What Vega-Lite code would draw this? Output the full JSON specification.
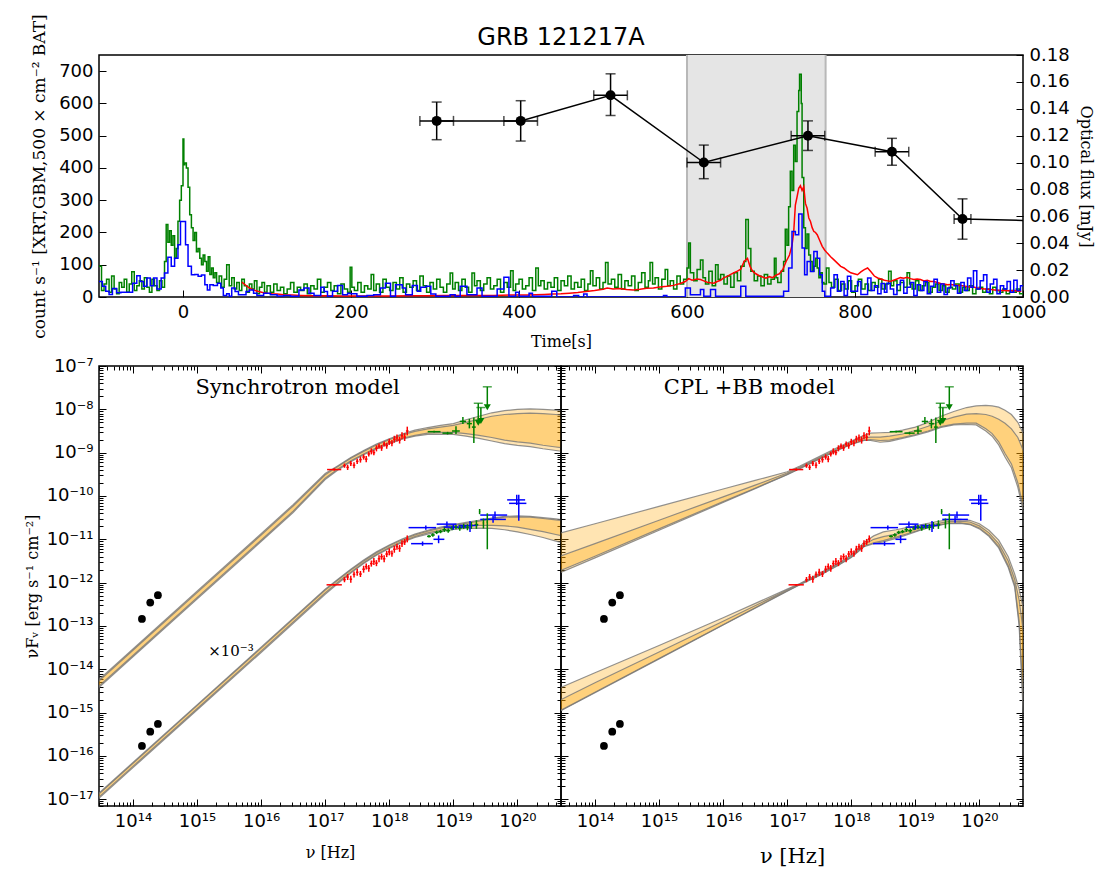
{
"$schema":"https://vega.github.io/schema/vega-lite/v6.json",
"padding":{"left":23,"top":13,"right":12,"bottom":0},
"background":"white",
"config":{
 "view":{"stroke":"black","strokeWidth":1.5},
 "font":"DejaVu Sans",
 "axis":{"grid":false,"domain":false,"tickColor":"black","labelColor":"black","titleColor":"black","labelFont":"DejaVu Sans","labelFontSize":18,"titleFont":"DejaVu Serif","titleFontWeight":"normal","titleFontSize":16,"tickSize":-7,"labelPadding":13,"tickWidth":1,"labelFlush":false,"labelOverlap":false}
},
"datasets":{
 "shade":[{"a":600,"b":765}],
 "edges":[{"a":600},{"a":765}],
 "gbm":[{"t":-100,"v":95},{"t":-97,"v":20},{"t":-94,"v":40},{"t":-91,"v":55},{"t":-88,"v":15},{"t":-85,"v":65},{"t":-82,"v":25},{"t":-79,"v":10},{"t":-76,"v":45},{"t":-73,"v":30},{"t":-70,"v":55},{"t":-67,"v":15},{"t":-64,"v":40},{"t":-61,"v":78},{"t":-58,"v":20},{"t":-55,"v":35},{"t":-52,"v":50},{"t":-49,"v":25},{"t":-46,"v":60},{"t":-43,"v":30},{"t":-40,"v":15},{"t":-37,"v":55},{"t":-34,"v":35},{"t":-31,"v":20},{"t":-28,"v":50},{"t":-25,"v":30},{"t":-22,"v":110},{"t":-20,"v":225},{"t":-18,"v":170},{"t":-16,"v":205},{"t":-14,"v":160},{"t":-12,"v":190},{"t":-10,"v":120},{"t":-8,"v":150},{"t":-6,"v":235},{"t":-4,"v":300},{"t":-2,"v":345},{"t":0,"v":490},{"t":1,"v":410},{"t":2,"v":415},{"t":4,"v":400},{"t":6,"v":340},{"t":8,"v":255},{"t":10,"v":215},{"t":12,"v":175},{"t":14,"v":200},{"t":16,"v":140},{"t":18,"v":150},{"t":20,"v":120},{"t":22,"v":100},{"t":24,"v":130},{"t":26,"v":110},{"t":28,"v":80},{"t":30,"v":125},{"t":32,"v":70},{"t":34,"v":90},{"t":36,"v":60},{"t":38,"v":75},{"t":40,"v":45},{"t":43,"v":65},{"t":46,"v":30},{"t":49,"v":55},{"t":52,"v":100},{"t":55,"v":35},{"t":58,"v":60},{"t":61,"v":25},{"t":64,"v":45},{"t":67,"v":20},{"t":70,"v":55},{"t":73,"v":35},{"t":76,"v":15},{"t":79,"v":40},{"t":82,"v":25},{"t":85,"v":50},{"t":88,"v":10},{"t":91,"v":30},{"t":94,"v":45},{"t":97,"v":15},
 {"t":100,"v":35},{"t":104,"v":15},{"t":108,"v":40},{"t":112,"v":20},{"t":116,"v":30},{"t":120,"v":10},{"t":124,"v":25},{"t":128,"v":45},{"t":132,"v":15},{"t":136,"v":30},{"t":140,"v":20},{"t":144,"v":40},{"t":148,"v":10},{"t":152,"v":35},{"t":156,"v":25},{"t":160,"v":55},{"t":164,"v":15},{"t":168,"v":30},{"t":172,"v":45},{"t":176,"v":20},{"t":180,"v":35},{"t":184,"v":10},{"t":188,"v":40},{"t":192,"v":25},{"t":196,"v":15},{"t":199,"v":92},{"t":201,"v":30},{"t":204,"v":20},{"t":208,"v":45},{"t":212,"v":15},{"t":216,"v":35},{"t":220,"v":25},{"t":224,"v":70},{"t":227,"v":20},{"t":230,"v":40},{"t":234,"v":15},{"t":238,"v":55},{"t":242,"v":30},{"t":246,"v":20},{"t":250,"v":45},{"t":254,"v":25},{"t":258,"v":60},{"t":262,"v":15},{"t":266,"v":40},{"t":270,"v":30},{"t":274,"v":50},{"t":278,"v":20},{"t":282,"v":65},{"t":286,"v":35},{"t":290,"v":15},{"t":294,"v":45},{"t":298,"v":25},{"t":302,"v":55},{"t":306,"v":30},{"t":310,"v":15},{"t":314,"v":40},{"t":318,"v":74},{"t":321,"v":25},{"t":324,"v":45},{"t":328,"v":20},{"t":332,"v":55},{"t":336,"v":30},{"t":340,"v":15},{"t":344,"v":74},{"t":347,"v":35},{"t":350,"v":50},{"t":354,"v":20},{"t":358,"v":40},{"t":362,"v":60},{"t":366,"v":25},{"t":370,"v":35},{"t":374,"v":55},{"t":378,"v":15},{"t":382,"v":45},{"t":386,"v":30},{"t":390,"v":81},{"t":393,"v":20},{"t":396,"v":40},{"t":400,"v":55},{"t":404,"v":25},{"t":408,"v":35},{"t":412,"v":60},{"t":416,"v":20},{"t":420,"v":90},{"t":423,"v":35},{"t":426,"v":50},{"t":430,"v":25},{"t":434,"v":45},{"t":438,"v":30},{"t":442,"v":60},{"t":446,"v":20},{"t":450,"v":50},{"t":454,"v":35},{"t":458,"v":65},{"t":462,"v":25},{"t":466,"v":45},{"t":470,"v":30},{"t":474,"v":55},{"t":478,"v":20},{"t":482,"v":40},{"t":485,"v":81},{"t":488,"v":35},{"t":492,"v":60},{"t":496,"v":25},{"t":500,"v":45},{"t":503,"v":107},{"t":506,"v":40},{"t":510,"v":55},{"t":514,"v":30},{"t":518,"v":70},{"t":522,"v":25},{"t":526,"v":50},{"t":530,"v":35},{"t":534,"v":65},{"t":538,"v":20},{"t":542,"v":45},{"t":546,"v":75},{"t":550,"v":30},{"t":554,"v":50},{"t":556,"v":107},{"t":559,"v":40},{"t":562,"v":60},{"t":566,"v":25},{"t":570,"v":55},{"t":574,"v":85},{"t":577,"v":35},{"t":580,"v":50},{"t":584,"v":25},{"t":588,"v":65},{"t":592,"v":40},{"t":596,"v":55},{"t":600,"v":90},{"t":602,"v":167},{"t":604,"v":75},{"t":608,"v":50},{"t":612,"v":85},{"t":616,"v":115},{"t":619,"v":60},{"t":622,"v":40},{"t":626,"v":80},{"t":630,"v":35},{"t":634,"v":100},{"t":637,"v":55},{"t":640,"v":70},{"t":644,"v":40},{"t":648,"v":65},{"t":652,"v":30},{"t":656,"v":75},{"t":660,"v":50},{"t":664,"v":95},{"t":668,"v":110},{"t":670,"v":240},{"t":673,"v":150},{"t":676,"v":80},{"t":680,"v":50},{"t":684,"v":65},{"t":688,"v":35},{"t":692,"v":70},{"t":696,"v":40},{"t":700,"v":55},{"t":704,"v":120},{"t":706,"v":60},{"t":708,"v":45},{"t":712,"v":80},{"t":715,"v":110},{"t":717,"v":210},{"t":719,"v":160},{"t":721,"v":280},{"t":723,"v":390},{"t":725,"v":330},{"t":727,"v":470},{"t":729,"v":420},{"t":731,"v":575},{"t":733,"v":640},{"t":734,"v":690},{"t":736,"v":600},{"t":737,"v":370},{"t":739,"v":215},{"t":741,"v":150},{"t":743,"v":195},{"t":745,"v":130},{"t":747,"v":110},{"t":749,"v":80},{"t":751,"v":95},{"t":753,"v":120},{"t":755,"v":90},{"t":757,"v":60},{"t":759,"v":75},{"t":761,"v":45},{"t":763,"v":40},{"t":766,"v":90},{"t":769,"v":45},{"t":772,"v":30},{"t":776,"v":55},{"t":780,"v":20},{"t":784,"v":40},{"t":788,"v":25},{"t":792,"v":50},{"t":796,"v":15},{"t":800,"v":35},{"t":804,"v":55},{"t":808,"v":25},{"t":812,"v":40},{"t":816,"v":20},{"t":820,"v":45},{"t":824,"v":30},{"t":828,"v":55},{"t":832,"v":25},{"t":836,"v":40},{"t":840,"v":80},{"t":843,"v":35},{"t":846,"v":50},{"t":850,"v":20},{"t":854,"v":45},{"t":858,"v":30},{"t":862,"v":75},{"t":865,"v":40},{"t":868,"v":25},{"t":872,"v":50},{"t":876,"v":20},{"t":880,"v":35},{"t":884,"v":45},{"t":888,"v":15},{"t":892,"v":30},{"t":896,"v":40},{"t":900,"v":20},{"t":904,"v":35},{"t":908,"v":15},{"t":912,"v":30},{"t":916,"v":25},{"t":920,"v":40},{"t":924,"v":15},{"t":928,"v":30},{"t":932,"v":20},{"t":936,"v":35},{"t":940,"v":10},{"t":944,"v":25},{"t":948,"v":30},{"t":952,"v":15},{"t":956,"v":25},{"t":960,"v":10},{"t":964,"v":30},{"t":968,"v":20},{"t":972,"v":15},{"t":976,"v":25},{"t":980,"v":10},{"t":984,"v":20},{"t":988,"v":15},{"t":992,"v":25},{"t":996,"v":10},{"t":1000,"v":10}],
 "bat":[{"t":-100,"v":48},{"t":-96,"v":33},{"t":-92,"v":18},{"t":-88,"v":8},{"t":-84,"v":26},{"t":-79,"v":13},{"t":-74,"v":15},{"t":-60,"v":43},{"t":-55,"v":66},{"t":-51,"v":48},{"t":-47,"v":33},{"t":-43,"v":59},{"t":-39,"v":35},{"t":-35,"v":59},{"t":-31,"v":25},{"t":-26,"v":59},{"t":-22,"v":74},{"t":-18,"v":123},{"t":-14,"v":95},{"t":-10,"v":120},{"t":-6,"v":162},{"t":-3,"v":234},{"t":3,"v":162},{"t":6,"v":95},{"t":10,"v":69},{"t":14,"v":70},{"t":18,"v":64},{"t":22,"v":68},{"t":26,"v":38},{"t":29,"v":22},{"t":32,"v":38},{"t":36,"v":36},{"t":41,"v":43},{"t":45,"v":28},{"t":48,"v":5},{"t":52,"v":10},{"t":55,"v":2},{"t":58,"v":28},{"t":62,"v":17},{"t":66,"v":7},{"t":71,"v":7},{"t":75,"v":17},{"t":79,"v":22},{"t":84,"v":12},{"t":88,"v":5},{"t":96,"v":12},{"t":104,"v":7},{"t":112,"v":3},{"t":120,"v":5},{"t":128,"v":2},{"t":138,"v":22},{"t":144,"v":28},{"t":150,"v":12},{"t":156,"v":5},{"t":164,"v":30},{"t":168,"v":17},{"t":172,"v":2},{"t":178,"v":18},{"t":184,"v":36},{"t":190,"v":7},{"t":196,"v":12},{"t":199,"v":10},{"t":207,"v":2},{"t":219,"v":5},{"t":227,"v":7},{"t":235,"v":28},{"t":241,"v":43},{"t":247,"v":2},{"t":253,"v":38},{"t":261,"v":28},{"t":265,"v":7},{"t":273,"v":36},{"t":279,"v":18},{"t":283,"v":30},{"t":289,"v":33},{"t":295,"v":9},{"t":301,"v":2},{"t":318,"v":7},{"t":324,"v":2},{"t":330,"v":33},{"t":338,"v":7},{"t":350,"v":28},{"t":356,"v":2},{"t":374,"v":25},{"t":382,"v":61},{"t":388,"v":2},{"t":396,"v":15},{"t":400,"v":2},{"t":412,"v":12},{"t":416,"v":2},{"t":439,"v":18},{"t":445,"v":0},{"t":465,"v":5},{"t":471,"v":0},{"t":477,"v":9},{"t":481,"v":0},{"t":572,"v":5},{"t":576,"v":0},{"t":598,"v":28},{"t":604,"v":7},{"t":616,"v":23},{"t":620,"v":2},{"t":628,"v":23},{"t":634,"v":2},{"t":664,"v":33},{"t":670,"v":2},{"t":715,"v":18},{"t":721,"v":90},{"t":725,"v":203},{"t":729,"v":193},{"t":733,"v":257},{"t":737,"v":152},{"t":740,"v":69},{"t":743,"v":110},{"t":747,"v":79},{"t":751,"v":141},{"t":755,"v":120},{"t":758,"v":69},{"t":761,"v":18},{"t":764,"v":2},{"t":771,"v":28},{"t":775,"v":69},{"t":779,"v":18},{"t":783,"v":48},{"t":787,"v":5},{"t":791,"v":64},{"t":795,"v":18},{"t":803,"v":48},{"t":807,"v":8},{"t":815,"v":59},{"t":819,"v":20},{"t":823,"v":35},{"t":827,"v":10},{"t":831,"v":42},{"t":835,"v":15},{"t":838,"v":43},{"t":842,"v":25},{"t":846,"v":8},{"t":850,"v":38},{"t":854,"v":52},{"t":858,"v":12},{"t":862,"v":30},{"t":866,"v":45},{"t":870,"v":5},{"t":874,"v":38},{"t":878,"v":20},{"t":882,"v":48},{"t":886,"v":10},{"t":890,"v":33},{"t":894,"v":55},{"t":898,"v":15},{"t":902,"v":40},{"t":906,"v":8},{"t":910,"v":28},{"t":914,"v":50},{"t":918,"v":35},{"t":922,"v":12},{"t":926,"v":45},{"t":930,"v":20},{"t":934,"v":59},{"t":938,"v":30},{"t":941,"v":81},{"t":945,"v":25},{"t":949,"v":50},{"t":953,"v":69},{"t":957,"v":15},{"t":961,"v":40},{"t":965,"v":55},{"t":969,"v":10},{"t":973,"v":35},{"t":977,"v":25},{"t":981,"v":48},{"t":985,"v":15},{"t":989,"v":52},{"t":993,"v":20},{"t":997,"v":35},{"t":1000,"v":35}],
 "xrt":[{"t":70,"v":46},{"t":74,"v":38},{"t":78,"v":30},{"t":82,"v":24},{"t":86,"v":20},{"t":90,"v":17},{"t":95,"v":14},{"t":100,"v":12},{"t":106,"v":10},{"t":112,"v":9},{"t":120,"v":7},{"t":130,"v":6},{"t":140,"v":5},{"t":155,"v":4},{"t":170,"v":4},{"t":190,"v":3},{"t":210,"v":3},{"t":230,"v":3},{"t":250,"v":3},{"t":270,"v":4},{"t":290,"v":4},{"t":310,"v":5},{"t":330,"v":5},{"t":350,"v":5},{"t":370,"v":5},{"t":390,"v":6},{"t":410,"v":6},{"t":420,"v":7},{"t":430,"v":8},{"t":440,"v":9},{"t":450,"v":10},{"t":460,"v":12},{"t":470,"v":14},{"t":480,"v":17},{"t":490,"v":20},{"t":500,"v":24},{"t":505,"v":28},{"t":512,"v":25},{"t":520,"v":26},{"t":528,"v":23},{"t":536,"v":22},{"t":544,"v":24},{"t":552,"v":27},{"t":560,"v":28},{"t":568,"v":31},{"t":576,"v":33},{"t":584,"v":36},{"t":592,"v":42},{"t":598,"v":48},{"t":602,"v":57},{"t":606,"v":52},{"t":612,"v":56},{"t":616,"v":54},{"t":620,"v":50},{"t":624,"v":46},{"t":628,"v":44},{"t":632,"v":43},{"t":636,"v":48},{"t":640,"v":52},{"t":644,"v":60},{"t":648,"v":64},{"t":652,"v":70},{"t":656,"v":75},{"t":660,"v":80},{"t":664,"v":86},{"t":668,"v":110},{"t":672,"v":120},{"t":675,"v":95},{"t":678,"v":80},{"t":682,"v":72},{"t":686,"v":66},{"t":690,"v":62},{"t":694,"v":58},{"t":698,"v":63},{"t":702,"v":60},{"t":706,"v":68},{"t":710,"v":72},{"t":714,"v":85},{"t":718,"v":110},{"t":722,"v":130},{"t":725,"v":160},{"t":727,"v":200},{"t":729,"v":285},{"t":731,"v":310},{"t":733,"v":337},{"t":735,"v":345},{"t":737,"v":330},{"t":739,"v":342},{"t":741,"v":290},{"t":743,"v":275},{"t":745,"v":245},{"t":747,"v":234},{"t":749,"v":215},{"t":751,"v":203},{"t":753,"v":200},{"t":755,"v":193},{"t":758,"v":175},{"t":761,"v":157},{"t":764,"v":145},{"t":767,"v":136},{"t":771,"v":125},{"t":775,"v":115},{"t":779,"v":105},{"t":783,"v":95},{"t":787,"v":90},{"t":791,"v":82},{"t":795,"v":75},{"t":799,"v":72},{"t":803,"v":69},{"t":807,"v":78},{"t":811,"v":85},{"t":815,"v":90},{"t":819,"v":78},{"t":823,"v":65},{"t":827,"v":59},{"t":831,"v":56},{"t":835,"v":52},{"t":839,"v":50},{"t":842,"v":48},{"t":846,"v":52},{"t":850,"v":56},{"t":854,"v":60},{"t":858,"v":58},{"t":862,"v":61},{"t":866,"v":57},{"t":870,"v":54},{"t":874,"v":56},{"t":878,"v":54},{"t":882,"v":50},{"t":886,"v":52},{"t":890,"v":48},{"t":894,"v":48},{"t":898,"v":45},{"t":902,"v":42},{"t":906,"v":40},{"t":910,"v":38},{"t":914,"v":39},{"t":918,"v":37},{"t":922,"v":36},{"t":926,"v":36},{"t":930,"v":34},{"t":934,"v":32},{"t":938,"v":31},{"t":942,"v":30},{"t":946,"v":28},{"t":950,"v":26},{"t":954,"v":25},{"t":958,"v":24},{"t":962,"v":23},{"t":966,"v":22},{"t":970,"v":21},{"t":974,"v":20},{"t":978,"v":20},{"t":982,"v":19},{"t":986,"v":19},{"t":990,"v":20},{"t":994,"v":18},{"t":998,"v":18}],
 "opt":[{"t":302,"f":0.131,"t1":282,"t2":322,"f1":0.117,"f2":0.145},{"t":402,"f":0.131,"t1":382,"t2":422,"f1":0.116,"f2":0.146},{"t":509,"f":0.150,"t1":489,"t2":529,"f1":0.135,"f2":0.166},{"t":620,"f":0.100,"t1":600,"t2":640,"f1":0.088,"f2":0.113},{"t":744,"f":0.120,"t1":724,"t2":764,"f1":0.109,"f2":0.131},{"t":844,"f":0.108,"t1":824,"t2":864,"f1":0.098,"f2":0.118},{"t":928,"f":0.058,"t1":918,"t2":938,"f1":0.043,"f2":0.073},{"t":1060,"f":0.056,"t1":1045,"t2":1075,"f1":0.045,"f2":0.067}],
 "syn":[
  {"g":"u","nu":2.51e13,"lo":3.09e-15,"hi":4.68e-15,"ilo":3.31e-15,"ihi":4.37e-15},{"g":"u","nu":1e14,"lo":1.95e-14,"hi":2.95e-14,"ilo":2.09e-14,"ihi":2.75e-14},{"g":"u","nu":1e15,"lo":4.17e-13,"hi":6.31e-13,"ilo":4.47e-13,"ihi":5.89e-13},{"g":"u","nu":1e16,"lo":8.91e-12,"hi":1.35e-11,"ilo":9.55e-12,"ihi":1.26e-11},{"g":"u","nu":3.16e16,"lo":4.17e-11,"hi":6.31e-11,"ilo":4.47e-11,"ihi":5.89e-11},{"g":"u","nu":1e17,"lo":2.40e-10,"hi":3.31e-10,"ilo":2.57e-10,"ihi":3.09e-10},{"g":"u","nu":1.58e17,"lo":3.98e-10,"hi":5.01e-10,"ilo":4.17e-10,"ihi":4.79e-10},{"g":"u","nu":2.51e17,"lo":6.17e-10,"hi":7.76e-10,"ilo":6.46e-10,"ihi":7.41e-10},{"g":"u","nu":3.98e17,"lo":8.91e-10,"hi":1.12e-9,"ilo":9.33e-10,"ihi":1.07e-9},{"g":"u","nu":6.31e17,"lo":1.23e-9,"hi":1.58e-9,"ilo":1.29e-9,"ihi":1.51e-9},{"g":"u","nu":1e18,"lo":1.62e-9,"hi":2.09e-9,"ilo":1.70e-9,"ihi":2.00e-9},{"g":"u","nu":1.58e18,"lo":2.04e-9,"hi":2.69e-9,"ilo":2.14e-9,"ihi":2.57e-9},{"g":"u","nu":2.51e18,"lo":2.40e-9,"hi":3.31e-9,"ilo":2.51e-9,"ihi":3.09e-9},{"g":"u","nu":3.98e18,"lo":2.63e-9,"hi":3.80e-9,"ilo":2.82e-9,"ihi":3.55e-9},{"g":"u","nu":6.31e18,"lo":2.69e-9,"hi":4.27e-9,"ilo":2.95e-9,"ihi":3.89e-9},{"g":"u","nu":1e19,"lo":2.63e-9,"hi":4.68e-9,"ilo":2.95e-9,"ihi":4.27e-9},{"g":"u","nu":1.58e19,"lo":2.40e-9,"hi":5.75e-9,"ilo":2.75e-9,"ihi":5.01e-9},{"g":"u","nu":2.51e19,"lo":2.14e-9,"hi":6.92e-9,"ilo":2.51e-9,"ihi":5.89e-9},{"g":"u","nu":3.98e19,"lo":1.86e-9,"hi":8.32e-9,"ilo":2.24e-9,"ihi":6.92e-9},{"g":"u","nu":6.31e19,"lo":1.62e-9,"hi":9.33e-9,"ilo":1.95e-9,"ihi":7.59e-9},{"g":"u","nu":1e20,"lo":1.48e-9,"hi":1.00e-8,"ilo":1.78e-9,"ihi":7.94e-9},{"g":"u","nu":1.58e20,"lo":1.38e-9,"hi":1.02e-8,"ilo":1.66e-9,"ihi":8.13e-9},{"g":"u","nu":2.51e20,"lo":1.23e-9,"hi":1.00e-8,"ilo":1.48e-9,"ihi":7.94e-9},{"g":"u","nu":3.98e20,"lo":1.12e-9,"hi":9.55e-9,"ilo":1.35e-9,"ihi":7.59e-9},{"g":"u","nu":6.31e20,"lo":1.02e-9,"hi":8.91e-9,"ilo":1.23e-9,"ihi":7.08e-9},
  {"g":"d","nu":2.51e13,"lo":8.51e-18,"hi":1.12e-17,"ilo":9.12e-18,"ihi":1.07e-17},{"g":"d","nu":1e14,"lo":5.37e-17,"hi":7.08e-17,"ilo":5.75e-17,"ihi":6.76e-17},{"g":"d","nu":1e15,"lo":1.15e-15,"hi":1.51e-15,"ilo":1.23e-15,"ihi":1.45e-15},{"g":"d","nu":1e16,"lo":2.45e-14,"hi":3.24e-14,"ilo":2.63e-14,"ihi":3.09e-14},{"g":"d","nu":1e17,"lo":5.37e-13,"hi":7.08e-13,"ilo":5.75e-13,"ihi":6.76e-13},{"g":"d","nu":1.58e17,"lo":9.55e-13,"hi":1.20e-12,"ilo":1.02e-12,"ihi":1.15e-12},{"g":"d","nu":2.51e17,"lo":1.66e-12,"hi":2.04e-12,"ilo":1.74e-12,"ihi":1.95e-12},{"g":"d","nu":3.98e17,"lo":2.75e-12,"hi":3.31e-12,"ilo":2.88e-12,"ihi":3.16e-12},{"g":"d","nu":6.31e17,"lo":4.27e-12,"hi":5.13e-12,"ilo":4.47e-12,"ihi":4.90e-12},{"g":"d","nu":1e18,"lo":6.17e-12,"hi":7.41e-12,"ilo":6.46e-12,"ihi":7.08e-12},{"g":"d","nu":1.58e18,"lo":8.51e-12,"hi":1.02e-11,"ilo":8.91e-12,"ihi":9.77e-12},{"g":"d","nu":2.51e18,"lo":1.10e-11,"hi":1.32e-11,"ilo":1.15e-11,"ihi":1.26e-11},{"g":"d","nu":3.98e18,"lo":1.32e-11,"hi":1.62e-11,"ilo":1.41e-11,"ihi":1.55e-11},{"g":"d","nu":6.31e18,"lo":1.51e-11,"hi":1.91e-11,"ilo":1.62e-11,"ihi":1.82e-11},{"g":"d","nu":1e19,"lo":1.70e-11,"hi":2.19e-11,"ilo":1.86e-11,"ihi":2.09e-11},{"g":"d","nu":1.58e19,"lo":1.78e-11,"hi":2.45e-11,"ilo":2.00e-11,"ihi":2.34e-11},{"g":"d","nu":2.51e19,"lo":1.82e-11,"hi":2.75e-11,"ilo":2.09e-11,"ihi":2.63e-11},{"g":"d","nu":3.98e19,"lo":1.78e-11,"hi":3.09e-11,"ilo":2.09e-11,"ihi":2.95e-11},{"g":"d","nu":6.31e19,"lo":1.66e-11,"hi":3.39e-11,"ilo":2.04e-11,"ihi":3.24e-11},{"g":"d","nu":1e20,"lo":1.48e-11,"hi":3.47e-11,"ilo":1.91e-11,"ihi":3.31e-11},{"g":"d","nu":1.58e20,"lo":1.29e-11,"hi":3.39e-11,"ilo":1.70e-11,"ihi":3.24e-11},{"g":"d","nu":2.51e20,"lo":1.10e-11,"hi":3.16e-11,"ilo":1.51e-11,"ihi":3.02e-11},{"g":"d","nu":3.98e20,"lo":9.12e-12,"hi":2.95e-11,"ilo":1.29e-11,"ihi":2.82e-11},{"g":"d","nu":6.31e20,"lo":7.59e-12,"hi":2.69e-11,"ilo":1.10e-11,"ihi":2.57e-11}],
 "cpl":[
  {"g":"u","nu":2.51e13,"lo":1.55e-12,"hi":1.32e-11,"ilo":1.74e-12,"ihi":3.80e-12},{"g":"u","nu":1e14,"lo":3.72e-12,"hi":2.29e-11,"ilo":4.07e-12,"ihi":7.94e-12},{"g":"u","nu":1e15,"lo":1.62e-11,"hi":5.75e-11,"ilo":1.74e-11,"ihi":2.75e-11},{"g":"u","nu":1e16,"lo":7.08e-11,"hi":1.45e-10,"ilo":7.41e-11,"ihi":9.55e-11},{"g":"u","nu":3.16e16,"lo":1.48e-10,"hi":2.29e-10,"ilo":1.51e-10,"ihi":1.78e-10},{"g":"u","nu":1e17,"lo":3.09e-10,"hi":3.63e-10,"ilo":3.16e-10,"ihi":3.39e-10},{"g":"u","nu":1.58e17,"lo":4.27e-10,"hi":4.90e-10,"ilo":4.37e-10,"ihi":4.68e-10},{"g":"u","nu":3.16e17,"lo":7.08e-10,"hi":8.13e-10,"ilo":7.24e-10,"ihi":7.76e-10},{"g":"u","nu":6.31e17,"lo":1.15e-9,"hi":1.35e-9,"ilo":1.17e-9,"ihi":1.26e-9},{"g":"u","nu":1e18,"lo":1.55e-9,"hi":1.86e-9,"ilo":1.58e-9,"ihi":1.74e-9},{"g":"u","nu":1.58e18,"lo":1.91e-9,"hi":2.51e-9,"ilo":1.95e-9,"ihi":2.19e-9},{"g":"u","nu":2.00e18,"lo":1.91e-9,"hi":2.82e-9,"ilo":2.00e-9,"ihi":2.29e-9},{"g":"u","nu":2.82e18,"lo":1.74e-9,"hi":2.88e-9,"ilo":1.91e-9,"ihi":2.29e-9},{"g":"u","nu":3.98e18,"lo":1.82e-9,"hi":2.95e-9,"ilo":1.95e-9,"ihi":2.40e-9},{"g":"u","nu":6.31e18,"lo":2.14e-9,"hi":3.31e-9,"ilo":2.24e-9,"ihi":2.69e-9},{"g":"u","nu":1e19,"lo":2.51e-9,"hi":3.89e-9,"ilo":2.63e-9,"ihi":3.24e-9},{"g":"u","nu":1.58e19,"lo":3.02e-9,"hi":5.01e-9,"ilo":3.16e-9,"ihi":4.07e-9},{"g":"u","nu":2.51e19,"lo":3.80e-9,"hi":6.92e-9,"ilo":3.98e-9,"ihi":5.37e-9},{"g":"u","nu":3.98e19,"lo":4.37e-9,"hi":8.91e-9,"ilo":4.57e-9,"ihi":6.61e-9},{"g":"u","nu":6.31e19,"lo":4.47e-9,"hi":1.10e-8,"ilo":4.79e-9,"ihi":7.76e-9},{"g":"u","nu":8.91e19,"lo":4.37e-9,"hi":1.20e-8,"ilo":4.79e-9,"ihi":7.94e-9},{"g":"u","nu":1.26e20,"lo":3.16e-9,"hi":1.23e-8,"ilo":3.55e-9,"ihi":7.59e-9},{"g":"u","nu":1.58e20,"lo":2.40e-9,"hi":1.20e-8,"ilo":2.75e-9,"ihi":6.92e-9},{"g":"u","nu":2.00e20,"lo":1.51e-9,"hi":1.12e-8,"ilo":1.78e-9,"ihi":5.89e-9},{"g":"u","nu":2.51e20,"lo":7.94e-10,"hi":9.55e-9,"ilo":9.55e-10,"ihi":4.79e-9},{"g":"u","nu":3.16e20,"lo":4.47e-10,"hi":7.59e-9,"ilo":5.50e-10,"ihi":3.55e-9},{"g":"u","nu":3.98e20,"lo":1.58e-10,"hi":5.01e-9,"ilo":2.00e-10,"ihi":2.24e-9},{"g":"u","nu":5.01e20,"lo":3.55e-11,"hi":2.51e-9,"ilo":4.47e-11,"ihi":1.00e-9},
  {"g":"d","nu":2.51e13,"lo":9.77e-16,"hi":3.47e-15,"ilo":1.00e-15,"ihi":1.78e-15},{"g":"d","nu":1e14,"lo":2.88e-15,"hi":8.32e-15,"ilo":2.95e-15,"ihi":4.90e-15},{"g":"d","nu":1e15,"lo":1.74e-14,"hi":3.55e-14,"ilo":1.78e-14,"ihi":2.51e-14},{"g":"d","nu":1e16,"lo":1.05e-13,"hi":1.55e-13,"ilo":1.07e-13,"ihi":1.29e-13},{"g":"d","nu":1e17,"lo":6.31e-13,"hi":7.08e-13,"ilo":6.46e-13,"ihi":6.76e-13},{"g":"d","nu":1.58e17,"lo":8.91e-13,"hi":9.55e-13,"ilo":9.12e-13,"ihi":9.33e-13},{"g":"d","nu":3.16e17,"lo":1.45e-12,"hi":1.62e-12,"ilo":1.48e-12,"ihi":1.55e-12},{"g":"d","nu":6.31e17,"lo":2.51e-12,"hi":2.82e-12,"ilo":2.57e-12,"ihi":2.69e-12},{"g":"d","nu":1e18,"lo":3.80e-12,"hi":4.37e-12,"ilo":3.89e-12,"ihi":4.07e-12},{"g":"d","nu":1.58e18,"lo":6.76e-12,"hi":8.51e-12,"ilo":6.92e-12,"ihi":7.59e-12},{"g":"d","nu":2.24e18,"lo":7.94e-12,"hi":1.20e-11,"ilo":8.32e-12,"ihi":1.00e-11},{"g":"d","nu":3.16e18,"lo":8.71e-12,"hi":1.48e-11,"ilo":9.33e-12,"ihi":1.15e-11},{"g":"d","nu":5.01e18,"lo":1.05e-11,"hi":1.66e-11,"ilo":1.12e-11,"ihi":1.32e-11},{"g":"d","nu":7.94e18,"lo":1.32e-11,"hi":1.91e-11,"ilo":1.38e-11,"ihi":1.58e-11},{"g":"d","nu":1.26e19,"lo":1.66e-11,"hi":2.19e-11,"ilo":1.70e-11,"ihi":1.91e-11},{"g":"d","nu":2.00e19,"lo":2.00e-11,"hi":2.51e-11,"ilo":2.04e-11,"ihi":2.24e-11},{"g":"d","nu":3.16e19,"lo":2.29e-11,"hi":2.82e-11,"ilo":2.34e-11,"ihi":2.57e-11},{"g":"d","nu":5.01e19,"lo":2.34e-11,"hi":2.88e-11,"ilo":2.40e-11,"ihi":2.63e-11},{"g":"d","nu":7.08e19,"lo":2.19e-11,"hi":2.75e-11,"ilo":2.24e-11,"ihi":2.51e-11},{"g":"d","nu":1e20,"lo":1.74e-11,"hi":2.29e-11,"ilo":1.82e-11,"ihi":2.04e-11},{"g":"d","nu":1.41e20,"lo":1.17e-11,"hi":1.62e-11,"ilo":1.23e-11,"ihi":1.41e-11},{"g":"d","nu":2.00e20,"lo":6.31e-12,"hi":9.55e-12,"ilo":6.76e-12,"ihi":7.94e-12},{"g":"d","nu":2.82e20,"lo":2.24e-12,"hi":3.98e-12,"ilo":2.45e-12,"ihi":3.16e-12},{"g":"d","nu":3.55e20,"lo":7.94e-13,"hi":1.58e-12,"ilo":8.91e-13,"ihi":1.20e-12},{"g":"d","nu":4.17e20,"lo":1.00e-13,"hi":7.08e-13,"ilo":1.26e-13,"ihi":3.98e-13},{"g":"d","nu":5.01e20,"lo":3.16e-16,"hi":2.00e-13,"ilo":6.31e-16,"ihi":5.01e-14}],
 "pts":[
  {"i":"XRT","nu":1.38e17,"f":4.07e-10,"x1":1.07e17,"x2":1.78e17,"y1":3.80e-10,"y2":4.37e-10},{"i":"XRT","nu":2.00e17,"f":5.01e-10,"x1":1.91e17,"x2":2.09e17,"y1":4.47e-10,"y2":5.62e-10},{"i":"XRT","nu":2.24e17,"f":4.57e-10,"x1":2.14e17,"x2":2.34e17,"y1":3.98e-10,"y2":5.25e-10},{"i":"XRT","nu":2.51e17,"f":5.62e-10,"x1":2.40e17,"x2":2.63e17,"y1":4.90e-10,"y2":6.46e-10},{"i":"XRT","nu":2.82e17,"f":5.13e-10,"x1":2.69e17,"x2":2.95e17,"y1":4.37e-10,"y2":6.03e-10},{"i":"XRT","nu":3.16e17,"f":6.31e-10,"x1":3.02e17,"x2":3.31e17,"y1":5.50e-10,"y2":7.24e-10},{"i":"XRT","nu":3.55e17,"f":6.92e-10,"x1":3.39e17,"x2":3.72e17,"y1":5.89e-10,"y2":8.13e-10},{"i":"XRT","nu":3.98e17,"f":7.94e-10,"x1":3.80e17,"x2":4.17e17,"y1":6.92e-10,"y2":9.12e-10},{"i":"XRT","nu":4.37e17,"f":7.08e-10,"x1":4.17e17,"x2":4.57e17,"y1":6.03e-10,"y2":8.32e-10},{"i":"XRT","nu":4.79e17,"f":9.33e-10,"x1":4.57e17,"x2":5.01e17,"y1":8.13e-10,"y2":1.07e-9},{"i":"XRT","nu":5.25e17,"f":1.07e-9,"x1":5.01e17,"x2":5.50e17,"y1":9.12e-10,"y2":1.26e-9},{"i":"XRT","nu":5.75e17,"f":1.00e-9,"x1":5.50e17,"x2":6.03e17,"y1":8.71e-10,"y2":1.15e-9},{"i":"XRT","nu":6.31e17,"f":1.26e-9,"x1":6.03e17,"x2":6.61e17,"y1":1.07e-9,"y2":1.48e-9},{"i":"XRT","nu":6.92e17,"f":1.41e-9,"x1":6.61e17,"x2":7.24e17,"y1":1.23e-9,"y2":1.62e-9},{"i":"XRT","nu":7.59e17,"f":1.29e-9,"x1":7.24e17,"x2":7.94e17,"y1":1.10e-9,"y2":1.51e-9},{"i":"XRT","nu":8.32e17,"f":1.58e-9,"x1":7.94e17,"x2":8.71e17,"y1":1.38e-9,"y2":1.82e-9},{"i":"XRT","nu":9.12e17,"f":1.45e-9,"x1":8.71e17,"x2":9.55e17,"y1":1.23e-9,"y2":1.70e-9},{"i":"XRT","nu":1.00e18,"f":1.78e-9,"x1":9.55e17,"x2":1.05e18,"y1":1.51e-9,"y2":2.09e-9},{"i":"XRT","nu":1.10e18,"f":1.66e-9,"x1":1.05e18,"x2":1.15e18,"y1":1.41e-9,"y2":1.95e-9},{"i":"XRT","nu":1.20e18,"f":2.04e-9,"x1":1.15e18,"x2":1.26e18,"y1":1.70e-9,"y2":2.45e-9},{"i":"XRT","nu":1.32e18,"f":2.19e-9,"x1":1.26e18,"x2":1.38e18,"y1":1.82e-9,"y2":2.63e-9},{"i":"XRT","nu":1.45e18,"f":1.95e-9,"x1":1.38e18,"x2":1.51e18,"y1":1.62e-9,"y2":2.34e-9},{"i":"XRT","nu":1.58e18,"f":2.45e-9,"x1":1.51e18,"x2":1.66e18,"y1":2.04e-9,"y2":2.95e-9},{"i":"XRT","nu":1.74e18,"f":2.29e-9,"x1":1.66e18,"x2":1.82e18,"y1":1.86e-9,"y2":2.82e-9},{"i":"XRT","nu":1.91e18,"f":3.16e-9,"x1":1.82e18,"x2":2.00e18,"y1":2.51e-9,"y2":3.98e-9},
  {"i":"XRT","nu":1.38e17,"f":8.91e-13,"x1":1.05e17,"x2":1.82e17,"y1":8.51e-13,"y2":9.33e-13},{"i":"XRT","nu":2.00e17,"f":1.17e-12,"x1":1.91e17,"x2":2.09e17,"y1":1.02e-12,"y2":1.35e-12},{"i":"XRT","nu":2.24e17,"f":1.35e-12,"x1":2.14e17,"x2":2.34e17,"y1":1.15e-12,"y2":1.58e-12},{"i":"XRT","nu":2.51e17,"f":1.20e-12,"x1":2.40e17,"x2":2.63e17,"y1":1.00e-12,"y2":1.45e-12},{"i":"XRT","nu":2.82e17,"f":1.55e-12,"x1":2.69e17,"x2":2.95e17,"y1":1.32e-12,"y2":1.82e-12},{"i":"XRT","nu":3.16e17,"f":1.74e-12,"x1":3.02e17,"x2":3.31e17,"y1":1.45e-12,"y2":2.09e-12},{"i":"XRT","nu":3.55e17,"f":1.58e-12,"x1":3.39e17,"x2":3.72e17,"y1":1.35e-12,"y2":1.86e-12},{"i":"XRT","nu":3.98e17,"f":2.04e-12,"x1":3.80e17,"x2":4.17e17,"y1":1.70e-12,"y2":2.45e-12},{"i":"XRT","nu":4.37e17,"f":2.34e-12,"x1":4.17e17,"x2":4.57e17,"y1":2.00e-12,"y2":2.75e-12},{"i":"XRT","nu":4.79e17,"f":2.14e-12,"x1":4.57e17,"x2":5.01e17,"y1":1.78e-12,"y2":2.57e-12},{"i":"XRT","nu":5.25e17,"f":2.75e-12,"x1":5.01e17,"x2":5.50e17,"y1":2.34e-12,"y2":3.24e-12},{"i":"XRT","nu":5.75e17,"f":3.09e-12,"x1":5.50e17,"x2":6.03e17,"y1":2.57e-12,"y2":3.72e-12},{"i":"XRT","nu":6.31e17,"f":2.82e-12,"x1":6.03e17,"x2":6.61e17,"y1":2.40e-12,"y2":3.31e-12},{"i":"XRT","nu":6.92e17,"f":3.55e-12,"x1":6.61e17,"x2":7.24e17,"y1":2.95e-12,"y2":4.27e-12},{"i":"XRT","nu":7.59e17,"f":3.98e-12,"x1":7.24e17,"x2":7.94e17,"y1":3.39e-12,"y2":4.68e-12},{"i":"XRT","nu":8.32e17,"f":3.55e-12,"x1":7.94e17,"x2":8.71e17,"y1":2.95e-12,"y2":4.27e-12},{"i":"XRT","nu":9.12e17,"f":4.57e-12,"x1":8.71e17,"x2":9.55e17,"y1":3.89e-12,"y2":5.37e-12},{"i":"XRT","nu":1.00e18,"f":5.13e-12,"x1":9.55e17,"x2":1.05e18,"y1":4.27e-12,"y2":6.17e-12},{"i":"XRT","nu":1.10e18,"f":4.68e-12,"x1":1.05e18,"x2":1.15e18,"y1":3.98e-12,"y2":5.50e-12},{"i":"XRT","nu":1.20e18,"f":5.89e-12,"x1":1.15e18,"x2":1.26e18,"y1":4.90e-12,"y2":7.08e-12},{"i":"XRT","nu":1.32e18,"f":6.76e-12,"x1":1.26e18,"x2":1.38e18,"y1":5.75e-12,"y2":7.94e-12},{"i":"XRT","nu":1.45e18,"f":6.17e-12,"x1":1.38e18,"x2":1.51e18,"y1":5.13e-12,"y2":7.41e-12},{"i":"XRT","nu":1.58e18,"f":7.94e-12,"x1":1.51e18,"x2":1.66e18,"y1":6.61e-12,"y2":9.55e-12},{"i":"XRT","nu":1.74e18,"f":8.71e-12,"x1":1.66e18,"x2":1.82e18,"y1":7.41e-12,"y2":1.02e-11},{"i":"XRT","nu":1.91e18,"f":1.02e-11,"x1":1.82e18,"x2":2.00e18,"y1":8.51e-12,"y2":1.23e-11},
  {"i":"GBM","nu":5.01e18,"f":3.05e-9,"x1":3.98e18,"x2":6.31e18,"y1":2.92e-9,"y2":3.20e-9},{"i":"GBM","nu":8.13e18,"f":2.82e-9,"x1":6.76e18,"x2":9.77e18,"y1":2.63e-9,"y2":3.02e-9},{"i":"GBM","nu":1.10e19,"f":3.16e-9,"x1":9.55e18,"x2":1.26e19,"y1":2.69e-9,"y2":4.07e-9},{"i":"GBM","nu":1.41e19,"f":5.25e-9,"x1":1.26e19,"x2":1.58e19,"y1":4.57e-9,"y2":6.61e-9},{"i":"GBM","nu":1.78e19,"f":4.68e-9,"x1":1.62e19,"x2":1.95e19,"y1":3.63e-9,"y2":6.03e-9},{"i":"GBM","nu":2.09e19,"f":3.89e-9,"x1":1.95e19,"x2":2.24e19,"y1":1.66e-9,"y2":6.46e-9},
  {"i":"GBM","nu":4.17e18,"f":1.17e-11,"x1":3.89e18,"x2":4.47e18,"y1":1.10e-11,"y2":1.26e-11},{"i":"GBM","nu":4.79e18,"f":1.26e-11,"x1":4.47e18,"x2":5.13e18,"y1":1.15e-11,"y2":1.38e-11},{"i":"GBM","nu":5.50e18,"f":1.45e-11,"x1":5.13e18,"x2":5.89e18,"y1":1.32e-11,"y2":1.58e-11},{"i":"GBM","nu":6.31e18,"f":1.51e-11,"x1":5.89e18,"x2":6.76e18,"y1":1.38e-11,"y2":1.66e-11},{"i":"GBM","nu":7.24e18,"f":1.66e-11,"x1":6.76e18,"x2":7.76e18,"y1":1.48e-11,"y2":1.86e-11},{"i":"GBM","nu":8.32e18,"f":1.58e-11,"x1":7.76e18,"x2":8.91e18,"y1":1.41e-11,"y2":1.78e-11},{"i":"GBM","nu":9.55e18,"f":1.82e-11,"x1":8.91e18,"x2":1.02e19,"y1":1.62e-11,"y2":2.04e-11},{"i":"GBM","nu":1.10e19,"f":1.91e-11,"x1":1.02e19,"x2":1.17e19,"y1":1.70e-11,"y2":2.14e-11},{"i":"GBM","nu":1.26e19,"f":1.82e-11,"x1":1.17e19,"x2":1.35e19,"y1":1.58e-11,"y2":2.09e-11},{"i":"GBM","nu":1.45e19,"f":2.00e-11,"x1":1.35e19,"x2":1.55e19,"y1":1.74e-11,"y2":2.29e-11},{"i":"GBM","nu":1.66e19,"f":1.91e-11,"x1":1.55e19,"x2":1.78e19,"y1":1.62e-11,"y2":2.24e-11},{"i":"GBM","nu":1.91e19,"f":2.09e-11,"x1":1.78e19,"x2":2.04e19,"y1":1.74e-11,"y2":2.51e-11},{"i":"GBM","nu":2.29e19,"f":2.19e-11,"x1":2.14e19,"x2":2.45e19,"y1":1.74e-11,"y2":2.75e-11},{"i":"GBM","nu":3.39e19,"f":2.51e-11,"x1":3.31e19,"x2":3.47e19,"y1":5.89e-12,"y2":3.98e-11},{"i":"GBM","nu":2.57e19,"f":4.37e-11,"x1":2.51e19,"x2":2.63e19,"y1":3.80e-11,"y2":5.01e-11},{"i":"GBM","nu":2.95e19,"f":2.40e-11,"x1":2.88e19,"x2":3.02e19,"y1":1.78e-11,"y2":3.02e-11},
  {"i":"BAT","nu":3.72e18,"f":1.86e-11,"x1":2.00e18,"x2":5.37e18,"y1":1.66e-11,"y2":2.09e-11},{"i":"BAT","nu":3.31e18,"f":7.94e-12,"x1":2.19e18,"x2":4.79e18,"y1":7.08e-12,"y2":8.91e-12},{"i":"BAT","nu":5.89e18,"f":1.00e-11,"x1":4.90e18,"x2":7.24e18,"y1":8.13e-12,"y2":1.23e-11},{"i":"BAT","nu":7.94e18,"f":2.24e-11,"x1":5.50e18,"x2":1.12e19,"y1":1.95e-11,"y2":2.57e-11},{"i":"BAT","nu":1.00e19,"f":1.91e-11,"x1":7.08e18,"x2":1.58e19,"y1":1.66e-11,"y2":2.19e-11},{"i":"BAT","nu":1.82e19,"f":2.09e-11,"x1":1.20e19,"x2":2.40e19,"y1":1.48e-11,"y2":2.63e-11},{"i":"BAT","nu":4.47e19,"f":3.63e-11,"x1":2.63e19,"x2":6.92e19,"y1":3.02e-11,"y2":4.37e-11},{"i":"BAT","nu":4.17e19,"f":2.88e-11,"x1":2.63e19,"x2":6.61e19,"y1":2.40e-11,"y2":3.47e-11},{"i":"BAT","nu":9.77e19,"f":8.13e-11,"x1":6.92e19,"x2":1.32e20,"y1":6.17e-11,"y2":1.07e-10},{"i":"BAT","nu":1.05e20,"f":6.76e-11,"x1":7.41e19,"x2":1.38e20,"y1":2.69e-11,"y2":1.07e-10},
  {"i":"opt","nu":1.38e14,"f":1.45e-13},{"i":"opt","nu":1.86e14,"f":3.47e-13},{"i":"opt","nu":2.45e14,"f":5.13e-13},{"i":"opt","nu":1.38e14,"f":1.70e-16},{"i":"opt","nu":1.86e14,"f":3.63e-16},{"i":"opt","nu":2.45e14,"f":5.50e-16}],
 "ul":[{"nu":2.45e19,"top":1.38e-8,"tip":4.90e-9},{"nu":2.69e19,"top":1.10e-8,"tip":5.37e-9},{"nu":3.39e19,"top":3.31e-8,"tip":1.12e-8}],
 "ann":[{"p":"syn","k":"title","label":"Synchrotron model","nu":3.72e16,"f":3.09e-8},{"p":"syn","k":"note","label":"×10⁻³","nu":3.39e15,"f":2.69e-14},{"p":"cpl","k":"title","label":"CPL +BB model","nu":2.57e16,"f":3.09e-8}]
},
"bounds":"flush",
"spacing":69,
"vconcat":[
 {
  "width":924,"height":242,
  "title":{"text":"GRB 121217A","font":"DejaVu Sans","fontSize":24,"fontWeight":"normal","offset":0,"dy":36,"color":"black"},
  "layer":[
   {"layer":[
     {"data":{"name":"shade"},"mark":{"type":"rect","fill":"#e5e5e5"},
      "encoding":{"x":{"field":"a","type":"quantitative","scale":{"domain":[-100,1000],"nice":false,"zero":false},"axis":{"values":[0,200,400,600,800,1000],"format":"d","labelOverlap":false,"title":"Time[s]","titlePadding":12}},"x2":{"field":"b"}}},
     {"data":{"name":"edges"},"mark":{"type":"rule","stroke":"#b8b8b8","strokeWidth":2},
      "encoding":{"x":{"field":"a","type":"quantitative","axis":{"values":[0,200,400,600,800,1000],"format":"d","labelOverlap":false,"title":"Time[s]","titlePadding":12}}}},
     {"data":{"name":"gbm"},"mark":{"type":"line","interpolate":"step-after","stroke":"#008000","strokeWidth":1.5,"clip":true},
      "encoding":{"x":{"field":"t","type":"quantitative","axis":{"values":[0,200,400,600,800,1000],"format":"d","labelOverlap":false,"title":"Time[s]","titlePadding":12}},"y":{"field":"v","type":"quantitative","scale":{"domain":[0,750],"nice":false},"axis":{"values":[0,100,200,300,400,500,600,700],"format":"d","labelOverlap":false,"title":"count s⁻¹ [XRT,GBM,500 × cm⁻² BAT]","titleFontSize":17,"titlePadding":10}}}},
     {"data":{"name":"xrt"},"mark":{"type":"line","stroke":"#ff0000","strokeWidth":1.5,"clip":true},
      "encoding":{"x":{"field":"t","type":"quantitative","axis":{"values":[0,200,400,600,800,1000],"format":"d","labelOverlap":false,"title":"Time[s]","titlePadding":12}},"y":{"field":"v","type":"quantitative","axis":{"values":[0,100,200,300,400,500,600,700],"format":"d","labelOverlap":false,"title":"count s⁻¹ [XRT,GBM,500 × cm⁻² BAT]","titleFontSize":17,"titlePadding":10}}}},
     {"data":{"name":"bat"},"mark":{"type":"line","interpolate":"step-after","stroke":"#0000ff","strokeWidth":1.5,"clip":true},
      "encoding":{"x":{"field":"t","type":"quantitative","axis":{"values":[0,200,400,600,800,1000],"format":"d","labelOverlap":false,"title":"Time[s]","titlePadding":12}},"y":{"field":"v","type":"quantitative","axis":{"values":[0,100,200,300,400,500,600,700],"format":"d","labelOverlap":false,"title":"count s⁻¹ [XRT,GBM,500 × cm⁻² BAT]","titleFontSize":17,"titlePadding":10}}}}
   ]},
   {"layer":[
     {"data":{"name":"opt"},"mark":{"type":"line","stroke":"black","strokeWidth":1.5,"clip":true},
      "encoding":{"x":{"field":"t","type":"quantitative","axis":{"values":[0,200,400,600,800,1000],"format":"d","labelOverlap":false,"title":"Time[s]","titlePadding":12}},"y":{"field":"f","type":"quantitative","scale":{"domain":[0,0.18],"nice":false},"axis":{"orient":"right","values":[0,0.02,0.04,0.06,0.08,0.1,0.12,0.14,0.16,0.18],"format":".2f","labelOverlap":false,"title":"Optical flux [mJy]","titlePadding":8}}}},
     {"data":{"name":"opt"},"mark":{"type":"rule","stroke":"black","strokeWidth":1.5,"clip":true},
      "encoding":{"x":{"field":"t1","type":"quantitative","axis":{"values":[0,200,400,600,800,1000],"format":"d","labelOverlap":false,"title":"Time[s]","titlePadding":12}},"x2":{"field":"t2"},"y":{"field":"f","type":"quantitative","axis":{"orient":"right","values":[0,0.02,0.04,0.06,0.08,0.1,0.12,0.14,0.16,0.18],"format":".2f","labelOverlap":false,"title":"Optical flux [mJy]","titlePadding":8}}}},
     {"data":{"name":"opt"},"mark":{"type":"rule","stroke":"black","strokeWidth":1.5,"clip":true},
      "encoding":{"x":{"field":"t","type":"quantitative","axis":{"values":[0,200,400,600,800,1000],"format":"d","labelOverlap":false,"title":"Time[s]","titlePadding":12}},"y":{"field":"f1","type":"quantitative","axis":{"orient":"right","values":[0,0.02,0.04,0.06,0.08,0.1,0.12,0.14,0.16,0.18],"format":".2f","labelOverlap":false,"title":"Optical flux [mJy]","titlePadding":8}},"y2":{"field":"f2"}}},
     {"data":{"name":"opt"},"mark":{"type":"tick","orient":"vertical","color":"black","thickness":1.5,"size":10,"clip":true},
      "encoding":{"x":{"field":"t1","type":"quantitative","axis":{"values":[0,200,400,600,800,1000],"format":"d","labelOverlap":false,"title":"Time[s]","titlePadding":12}},"y":{"field":"f","type":"quantitative","axis":{"orient":"right","values":[0,0.02,0.04,0.06,0.08,0.1,0.12,0.14,0.16,0.18],"format":".2f","labelOverlap":false,"title":"Optical flux [mJy]","titlePadding":8}}}},
     {"data":{"name":"opt"},"mark":{"type":"tick","orient":"vertical","color":"black","thickness":1.5,"size":10,"clip":true},
      "encoding":{"x":{"field":"t2","type":"quantitative","axis":{"values":[0,200,400,600,800,1000],"format":"d","labelOverlap":false,"title":"Time[s]","titlePadding":12}},"y":{"field":"f","type":"quantitative","axis":{"orient":"right","values":[0,0.02,0.04,0.06,0.08,0.1,0.12,0.14,0.16,0.18],"format":".2f","labelOverlap":false,"title":"Optical flux [mJy]","titlePadding":8}}}},
     {"data":{"name":"opt"},"mark":{"type":"tick","orient":"horizontal","color":"black","thickness":1.5,"size":10,"clip":true},
      "encoding":{"x":{"field":"t","type":"quantitative","axis":{"values":[0,200,400,600,800,1000],"format":"d","labelOverlap":false,"title":"Time[s]","titlePadding":12}},"y":{"field":"f1","type":"quantitative","axis":{"orient":"right","values":[0,0.02,0.04,0.06,0.08,0.1,0.12,0.14,0.16,0.18],"format":".2f","labelOverlap":false,"title":"Optical flux [mJy]","titlePadding":8}}}},
     {"data":{"name":"opt"},"mark":{"type":"tick","orient":"horizontal","color":"black","thickness":1.5,"size":10,"clip":true},
      "encoding":{"x":{"field":"t","type":"quantitative","axis":{"values":[0,200,400,600,800,1000],"format":"d","labelOverlap":false,"title":"Time[s]","titlePadding":12}},"y":{"field":"f2","type":"quantitative","axis":{"orient":"right","values":[0,0.02,0.04,0.06,0.08,0.1,0.12,0.14,0.16,0.18],"format":".2f","labelOverlap":false,"title":"Optical flux [mJy]","titlePadding":8}}}},
     {"data":{"name":"opt"},"mark":{"type":"circle","color":"black","size":100,"opacity":1,"clip":true},
      "encoding":{"x":{"field":"t","type":"quantitative","axis":{"values":[0,200,400,600,800,1000],"format":"d","labelOverlap":false,"title":"Time[s]","titlePadding":12}},"y":{"field":"f","type":"quantitative","axis":{"orient":"right","values":[0,0.02,0.04,0.06,0.08,0.1,0.12,0.14,0.16,0.18],"format":".2f","labelOverlap":false,"title":"Optical flux [mJy]","titlePadding":8}}}}
   ]}
  ],
  "resolve":{"scale":{"y":"independent"}}
 },
 {
  "bounds":"flush",
  "spacing":0,
  "hconcat":[
   {
    "width":462,"height":440,
    "layer":[
     {"data":{"name":"syn"},"mark":{"type":"area","fill":"orange","fillOpacity":0.3,"stroke":"#777777","strokeOpacity":0.8,"strokeWidth":1.2,"clip":true},
      "encoding":{"x":{"field":"nu","type":"quantitative","scale":{"type":"log","domain":[2.95e13,4.79e20],"nice":false},"axis":{"orient":"bottom","values":[1e14,1e15,1e16,1e17,1e18,1e19,1e20],"labelExpr":"'10' + ['¹³','¹⁴','¹⁵','¹⁶','¹⁷','¹⁸','¹⁹','²⁰'][round(log(datum.value)/LN10) - 13]","title":"ν [Hz]","titleFontSize":16,"titlePadding":14}},
       "y":{"field":"lo","type":"quantitative","scale":{"type":"log","domain":[7e-18,1e-7],"nice":false},"axis":{"orient":"left","values":[1e-17,1e-16,1e-15,1e-14,1e-13,1e-12,1e-11,1e-10,1e-9,1e-8,1e-7],"labelExpr":"'10' + ['⁻⁷','⁻⁸','⁻⁹','⁻¹⁰','⁻¹¹','⁻¹²','⁻¹³','⁻¹⁴','⁻¹⁵','⁻¹⁶','⁻¹⁷'][-7 - round(log(datum.value)/LN10)]","title":"νFᵥ [erg s⁻¹  cm⁻²]","titlePadding":6}},
       "y2":{"field":"hi"},"detail":{"field":"g","type":"nominal"}}},
     {"data":{"name":"syn"},"mark":{"type":"area","fill":"orange","fillOpacity":0.3,"stroke":"#777777","strokeOpacity":0.8,"strokeWidth":1.2,"clip":true},
      "encoding":{"x":{"field":"nu","type":"quantitative","axis":{"orient":"bottom","values":[3e13,4e13,5e13,6e13,7e13,8e13,9e13,2e14,3e14,4e14,5e14,6e14,7e14,8e14,9e14,2e15,3e15,4e15,5e15,6e15,7e15,8e15,9e15,2e16,3e16,4e16,5e16,6e16,7e16,8e16,9e16,2e17,3e17,4e17,5e17,6e17,7e17,8e17,9e17,2e18,3e18,4e18,5e18,6e18,7e18,8e18,9e18,2e19,3e19,4e19,5e19,6e19,7e19,8e19,9e19,2e20,3e20,4e20],"labels":false,"title":null,"tickSize":-4}},
       "y":{"field":"ilo","type":"quantitative","axis":{"orient":"left","values":[7e-18,8e-18,9e-18,2e-17,3e-17,4e-17,5e-17,6e-17,7e-17,8e-17,9e-17,2e-16,3e-16,4e-16,5e-16,6e-16,7e-16,8e-16,9e-16,2e-15,3e-15,4e-15,5e-15,6e-15,7e-15,8e-15,9e-15,2e-14,3e-14,4e-14,5e-14,6e-14,7e-14,8e-14,9e-14,2e-13,3e-13,4e-13,5e-13,6e-13,7e-13,8e-13,9e-13,2e-12,3e-12,4e-12,5e-12,6e-12,7e-12,8e-12,9e-12,2e-11,3e-11,4e-11,5e-11,6e-11,7e-11,8e-11,9e-11,2e-10,3e-10,4e-10,5e-10,6e-10,7e-10,8e-10,9e-10,2e-9,3e-9,4e-9,5e-9,6e-9,7e-9,8e-9,9e-9,2e-8,3e-8,4e-8,5e-8,6e-8,7e-8,8e-8,9e-8],"labels":false,"title":null,"tickSize":-4}},
       "y2":{"field":"ihi"},"detail":{"field":"g","type":"nominal"}}},
     {"data":{"name":"pts"},"transform":[{"filter":"datum.i !== 'opt'"}],"mark":{"type":"rule","strokeWidth":1.5,"clip":true},
      "encoding":{"x":{"field":"x1","type":"quantitative","axis":{"orient":"top","values":[1e14,1e15,1e16,1e17,1e18,1e19,1e20],"labels":false,"title":null}},"x2":{"field":"x2"},
       "y":{"field":"f","type":"quantitative","axis":{"orient":"right","values":[1e-17,1e-16,1e-15,1e-14,1e-13,1e-12,1e-11,1e-10,1e-9,1e-8,1e-7],"labels":false,"title":null}},
       "color":{"field":"i","type":"nominal","scale":{"domain":["XRT","GBM","BAT"],"range":["#ff0000","#008000","#0000ff"]},"legend":null}}},
     {"data":{"name":"pts"},"transform":[{"filter":"datum.i !== 'opt'"}],"mark":{"type":"rule","strokeWidth":1.5,"clip":true},
      "encoding":{"x":{"field":"nu","type":"quantitative","axis":{"orient":"top","values":[3e13,4e13,5e13,6e13,7e13,8e13,9e13,2e14,3e14,4e14,5e14,6e14,7e14,8e14,9e14,2e15,3e15,4e15,5e15,6e15,7e15,8e15,9e15,2e16,3e16,4e16,5e16,6e16,7e16,8e16,9e16,2e17,3e17,4e17,5e17,6e17,7e17,8e17,9e17,2e18,3e18,4e18,5e18,6e18,7e18,8e18,9e18,2e19,3e19,4e19,5e19,6e19,7e19,8e19,9e19,2e20,3e20,4e20],"labels":false,"title":null,"tickSize":-4}},
       "y":{"field":"y1","type":"quantitative","axis":{"orient":"right","values":[7e-18,8e-18,9e-18,2e-17,3e-17,4e-17,5e-17,6e-17,7e-17,8e-17,9e-17,2e-16,3e-16,4e-16,5e-16,6e-16,7e-16,8e-16,9e-16,2e-15,3e-15,4e-15,5e-15,6e-15,7e-15,8e-15,9e-15,2e-14,3e-14,4e-14,5e-14,6e-14,7e-14,8e-14,9e-14,2e-13,3e-13,4e-13,5e-13,6e-13,7e-13,8e-13,9e-13,2e-12,3e-12,4e-12,5e-12,6e-12,7e-12,8e-12,9e-12,2e-11,3e-11,4e-11,5e-11,6e-11,7e-11,8e-11,9e-11,2e-10,3e-10,4e-10,5e-10,6e-10,7e-10,8e-10,9e-10,2e-9,3e-9,4e-9,5e-9,6e-9,7e-9,8e-9,9e-9,2e-8,3e-8,4e-8,5e-8,6e-8,7e-8,8e-8,9e-8],"labels":false,"title":null,"tickSize":-4}},
       "y2":{"field":"y2"},
       "color":{"field":"i","type":"nominal","legend":null}}},
     {"data":{"name":"ul"},"mark":{"type":"rule","stroke":"#008000","strokeWidth":1.5,"clip":true},
      "encoding":{"x":{"field":"nu","type":"quantitative","axis":null},"y":{"field":"tip","type":"quantitative","axis":null},"y2":{"field":"top"}}},
     {"data":{"name":"ul"},"mark":{"type":"tick","orient":"horizontal","color":"#008000","thickness":1.5,"size":9,"clip":true},
      "encoding":{"x":{"field":"nu","type":"quantitative","axis":null},"y":{"field":"top","type":"quantitative","axis":null}}},
     {"data":{"name":"ul"},"mark":{"type":"point","shape":"triangle-down","filled":true,"color":"#008000","size":50,"opacity":1,"clip":true},
      "encoding":{"x":{"field":"nu","type":"quantitative","axis":null},"y":{"field":"tip","type":"quantitative","axis":null}}},
     {"data":{"name":"pts"},"transform":[{"filter":"datum.i === 'opt'"}],"mark":{"type":"circle","color":"black","size":60,"opacity":1,"clip":true},
      "encoding":{"x":{"field":"nu","type":"quantitative","axis":null},"y":{"field":"f","type":"quantitative","axis":null}}},
     {"data":{"name":"ann"},"transform":[{"filter":"datum.p === 'syn' && datum.k === 'title'"}],"mark":{"type":"text","font":"DejaVu Serif","fontSize":21,"color":"black"},
      "encoding":{"x":{"field":"nu","type":"quantitative","axis":null},"y":{"field":"f","type":"quantitative","axis":null},"text":{"field":"label"}}},
     {"data":{"name":"ann"},"transform":[{"filter":"datum.p === 'syn' && datum.k === 'note'"}],"mark":{"type":"text","font":"DejaVu Serif","fontSize":15,"color":"black"},
      "encoding":{"x":{"field":"nu","type":"quantitative","axis":null},"y":{"field":"f","type":"quantitative","axis":null},"text":{"field":"label"}}}
    ],
    "resolve":{"axis":{"x":"independent","y":"independent"}}
   },
   {
    "width":462,"height":440,
    "layer":[
     {"data":{"name":"cpl"},"mark":{"type":"area","fill":"orange","fillOpacity":0.3,"stroke":"#777777","strokeOpacity":0.8,"strokeWidth":1.2,"clip":true},
      "encoding":{"x":{"field":"nu","type":"quantitative","scale":{"type":"log","domain":[2.95e13,4.79e20],"nice":false},"axis":{"orient":"bottom","values":[1e14,1e15,1e16,1e17,1e18,1e19,1e20],"labelExpr":"'10' + ['¹³','¹⁴','¹⁵','¹⁶','¹⁷','¹⁸','¹⁹','²⁰'][round(log(datum.value)/LN10) - 13]","title":"ν [Hz]","titleFontSize":21,"titlePadding":15}},
       "y":{"field":"lo","type":"quantitative","scale":{"type":"log","domain":[7e-18,1e-7],"nice":false},"axis":{"orient":"left","values":[1e-17,1e-16,1e-15,1e-14,1e-13,1e-12,1e-11,1e-10,1e-9,1e-8,1e-7],"labels":false,"title":null}},
       "y2":{"field":"hi"},"detail":{"field":"g","type":"nominal"}}},
     {"data":{"name":"cpl"},"mark":{"type":"area","fill":"orange","fillOpacity":0.3,"stroke":"#777777","strokeOpacity":0.8,"strokeWidth":1.2,"clip":true},
      "encoding":{"x":{"field":"nu","type":"quantitative","axis":{"orient":"bottom","values":[3e13,4e13,5e13,6e13,7e13,8e13,9e13,2e14,3e14,4e14,5e14,6e14,7e14,8e14,9e14,2e15,3e15,4e15,5e15,6e15,7e15,8e15,9e15,2e16,3e16,4e16,5e16,6e16,7e16,8e16,9e16,2e17,3e17,4e17,5e17,6e17,7e17,8e17,9e17,2e18,3e18,4e18,5e18,6e18,7e18,8e18,9e18,2e19,3e19,4e19,5e19,6e19,7e19,8e19,9e19,2e20,3e20,4e20],"labels":false,"title":null,"tickSize":-4}},
       "y":{"field":"ilo","type":"quantitative","axis":{"orient":"left","values":[7e-18,8e-18,9e-18,2e-17,3e-17,4e-17,5e-17,6e-17,7e-17,8e-17,9e-17,2e-16,3e-16,4e-16,5e-16,6e-16,7e-16,8e-16,9e-16,2e-15,3e-15,4e-15,5e-15,6e-15,7e-15,8e-15,9e-15,2e-14,3e-14,4e-14,5e-14,6e-14,7e-14,8e-14,9e-14,2e-13,3e-13,4e-13,5e-13,6e-13,7e-13,8e-13,9e-13,2e-12,3e-12,4e-12,5e-12,6e-12,7e-12,8e-12,9e-12,2e-11,3e-11,4e-11,5e-11,6e-11,7e-11,8e-11,9e-11,2e-10,3e-10,4e-10,5e-10,6e-10,7e-10,8e-10,9e-10,2e-9,3e-9,4e-9,5e-9,6e-9,7e-9,8e-9,9e-9,2e-8,3e-8,4e-8,5e-8,6e-8,7e-8,8e-8,9e-8],"labels":false,"title":null,"tickSize":-4}},
       "y2":{"field":"ihi"},"detail":{"field":"g","type":"nominal"}}},
     {"data":{"name":"pts"},"transform":[{"filter":"datum.i !== 'opt'"}],"mark":{"type":"rule","strokeWidth":1.5,"clip":true},
      "encoding":{"x":{"field":"x1","type":"quantitative","axis":{"orient":"top","values":[1e14,1e15,1e16,1e17,1e18,1e19,1e20],"labels":false,"title":null}},"x2":{"field":"x2"},
       "y":{"field":"f","type":"quantitative","axis":{"orient":"right","values":[1e-17,1e-16,1e-15,1e-14,1e-13,1e-12,1e-11,1e-10,1e-9,1e-8,1e-7],"labels":false,"title":null}},
       "color":{"field":"i","type":"nominal","scale":{"domain":["XRT","GBM","BAT"],"range":["#ff0000","#008000","#0000ff"]},"legend":null}}},
     {"data":{"name":"pts"},"transform":[{"filter":"datum.i !== 'opt'"}],"mark":{"type":"rule","strokeWidth":1.5,"clip":true},
      "encoding":{"x":{"field":"nu","type":"quantitative","axis":{"orient":"top","values":[3e13,4e13,5e13,6e13,7e13,8e13,9e13,2e14,3e14,4e14,5e14,6e14,7e14,8e14,9e14,2e15,3e15,4e15,5e15,6e15,7e15,8e15,9e15,2e16,3e16,4e16,5e16,6e16,7e16,8e16,9e16,2e17,3e17,4e17,5e17,6e17,7e17,8e17,9e17,2e18,3e18,4e18,5e18,6e18,7e18,8e18,9e18,2e19,3e19,4e19,5e19,6e19,7e19,8e19,9e19,2e20,3e20,4e20],"labels":false,"title":null,"tickSize":-4}},
       "y":{"field":"y1","type":"quantitative","axis":{"orient":"right","values":[7e-18,8e-18,9e-18,2e-17,3e-17,4e-17,5e-17,6e-17,7e-17,8e-17,9e-17,2e-16,3e-16,4e-16,5e-16,6e-16,7e-16,8e-16,9e-16,2e-15,3e-15,4e-15,5e-15,6e-15,7e-15,8e-15,9e-15,2e-14,3e-14,4e-14,5e-14,6e-14,7e-14,8e-14,9e-14,2e-13,3e-13,4e-13,5e-13,6e-13,7e-13,8e-13,9e-13,2e-12,3e-12,4e-12,5e-12,6e-12,7e-12,8e-12,9e-12,2e-11,3e-11,4e-11,5e-11,6e-11,7e-11,8e-11,9e-11,2e-10,3e-10,4e-10,5e-10,6e-10,7e-10,8e-10,9e-10,2e-9,3e-9,4e-9,5e-9,6e-9,7e-9,8e-9,9e-9,2e-8,3e-8,4e-8,5e-8,6e-8,7e-8,8e-8,9e-8],"labels":false,"title":null,"tickSize":-4}},
       "y2":{"field":"y2"},
       "color":{"field":"i","type":"nominal","legend":null}}},
     {"data":{"name":"ul"},"mark":{"type":"rule","stroke":"#008000","strokeWidth":1.5,"clip":true},
      "encoding":{"x":{"field":"nu","type":"quantitative","axis":null},"y":{"field":"tip","type":"quantitative","axis":null},"y2":{"field":"top"}}},
     {"data":{"name":"ul"},"mark":{"type":"tick","orient":"horizontal","color":"#008000","thickness":1.5,"size":9,"clip":true},
      "encoding":{"x":{"field":"nu","type":"quantitative","axis":null},"y":{"field":"top","type":"quantitative","axis":null}}},
     {"data":{"name":"ul"},"mark":{"type":"point","shape":"triangle-down","filled":true,"color":"#008000","size":50,"opacity":1,"clip":true},
      "encoding":{"x":{"field":"nu","type":"quantitative","axis":null},"y":{"field":"tip","type":"quantitative","axis":null}}},
     {"data":{"name":"pts"},"transform":[{"filter":"datum.i === 'opt'"}],"mark":{"type":"circle","color":"black","size":60,"opacity":1,"clip":true},
      "encoding":{"x":{"field":"nu","type":"quantitative","axis":null},"y":{"field":"f","type":"quantitative","axis":null}}},
     {"data":{"name":"ann"},"transform":[{"filter":"datum.p === 'cpl' && datum.k === 'title'"}],"mark":{"type":"text","font":"DejaVu Serif","fontSize":21,"color":"black"},
      "encoding":{"x":{"field":"nu","type":"quantitative","axis":null},"y":{"field":"f","type":"quantitative","axis":null},"text":{"field":"label"}}}
    ],
    "resolve":{"axis":{"x":"independent","y":"independent"}}
   }
  ]
 }
]
}
